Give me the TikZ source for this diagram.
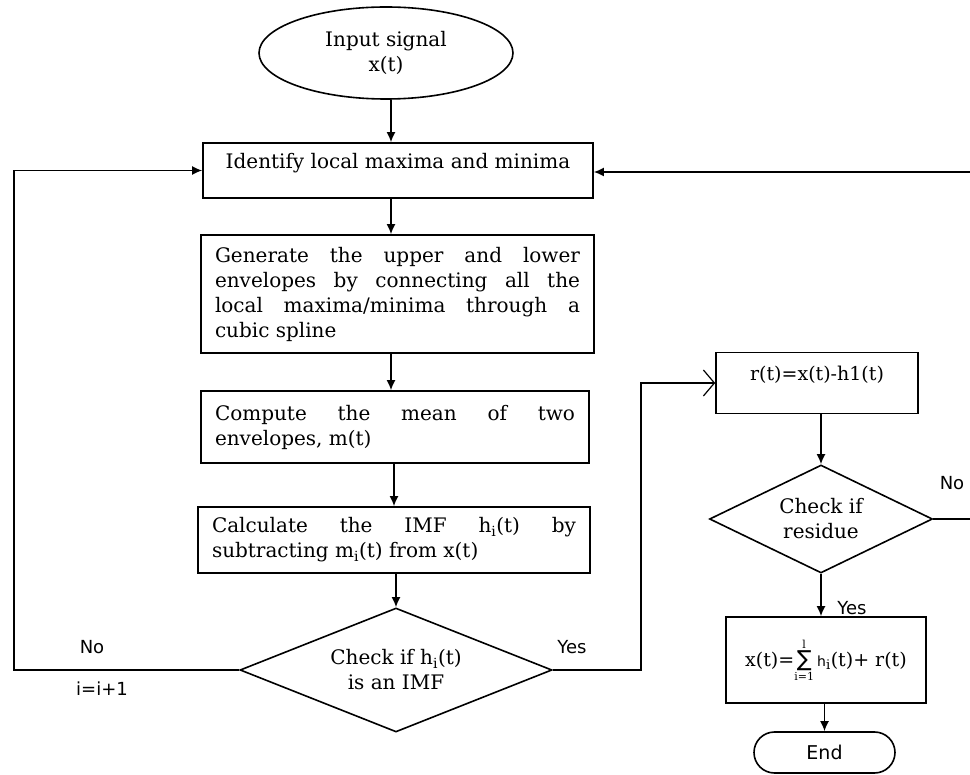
\documentclass[tikz,border=0pt]{standalone}
\usepackage{fontspec}
\setmainfont{DejaVu Serif}
\setsansfont{DejaVu Sans}
\usetikzlibrary{arrows.meta,shapes.geometric,shapes.misc}
\newcommand\bigserif{\fontsize{20}{25}\selectfont}
\newcommand\lblfont{\sffamily\fontsize{18}{21}\selectfont}
\newcommand\limfont{\fontsize{11}{11}\selectfont}
\tikzset{
  ln/.style={line width=1.6pt},
  arr/.style={ln, -{Latex[length=10pt,width=9pt]}},
  openarr/.style={ln, -{Straight Barb[length=11pt,width=26pt,line width=1.2pt]}},
  stepbox/.style={draw, ln, rectangle, inner xsep=14pt, inner ysep=0pt, font=\bigserif},
  jbox/.style={stepbox, align=justify},
  decision/.style={draw, ln, diamond, aspect=2.5, inner sep=0pt, align=center, font=\bigserif},
  terminal/.style={draw, ln, ellipse, inner sep=0pt, align=center, font=\bigserif},
  lbl/.style={inner sep=0pt, font=\lblfont}
}
\begin{document}
\begin{tikzpicture}[x=1pt,y=-1pt]
\useasboundingbox (0,0) rectangle (970,775);
\coordinate (spine) at (391,0);
\coordinate (lc) at (14,0);
\coordinate (rc) at (641,0);

\node[terminal, minimum width=254pt, minimum height=92pt] (ell) at (386,53) {Input signal\\x(t)};

\node[stepbox, minimum width=390pt, minimum height=55pt, text depth=19pt] (ident) at (398,170.5)
  {Identify local maxima and minima};

\node[jbox, text width=365pt, minimum height=118pt] (gen) at (397.5,294)
  {Generate the upper and lower\linebreak envelopes by connecting all the\linebreak local maxima/minima through a\linebreak cubic spline};

\node[jbox, text width=360pt, minimum height=72pt] (comp) at (395,427)
  {Compute the mean of two\linebreak envelopes, m(t)};

\node[jbox, text width=364pt, minimum height=66pt] (calc) at (394,540)
  {Calculate the IMF h\textsubscript{i}(t) by\linebreak subtracting m\textsubscript{i}(t) from x(t)};

\node[decision, minimum width=312pt, minimum height=124pt] (d1) at (396,670)
  {Check if h\textsubscript{i}(t)\\is an IMF};

\node[stepbox, minimum width=202pt, minimum height=61pt, font=\fontsize{19}{23}\selectfont, text depth=19pt] (rbox) at (817,383)
  {r(t)=x(t)-h1(t)};

\node[decision, aspect=2, minimum width=223pt, minimum height=108pt] (d2) at (821,519)
  {Check if\\residue};

\node[stepbox, minimum width=200pt, minimum height=86pt, inner xsep=0pt, font=\fontsize{19}{22}\selectfont] (sum) at (826,660)
  {x(t)=$\mathop{\hbox{\sffamily\fontsize{22}{22}\selectfont ∑}}\limits_{\hbox{\limfont i=1}}^{\hbox{\limfont l}}$\,{\sffamily\fontsize{14}{15}\selectfont h}\textsubscript{i}(t)+ r(t)};

\node[draw, ln, rounded rectangle, minimum width=141pt, minimum height=41pt, inner sep=0pt, font=\sffamily\fontsize{19}{22}\selectfont] (endn) at (824.5,752.5) {End};

% labels
\node[lbl] (lno) at (92,647) {No};
\node[lbl] (linc) at (102,689) {i=i+1};
\node[lbl] (lyes) at (572,647) {Yes};
\node[lbl] (rno) at (952,483) {No};
\node[lbl] (ryes) at (852,608) {Yes};

% open ends at the right border
\coordinate (rtop) at (970,172);
\coordinate (rbot) at (970,519);

% connectors
\draw[arr] (ell.south -| spine) -- (ident.north -| spine);
\draw[arr] (ident.south -| spine) -- (gen.north -| spine);
\draw[arr] (gen.south -| spine) -- (comp.north -| spine);
\draw[arr] (comp.south -| calc) -- (calc.north);
\draw[arr] (calc.south -| d1.north) -- (d1.north);
\draw[arr] (d1.west) -- (d1.west -| lc) |- (ident.west);
\draw[openarr] (d1.east) -- (d1.east -| rc) |- (rbox.west);
\draw[arr] (rbox.south -| d2.north) -- (d2.north);
\draw[ln] (d2.east) -- (rbot);
\draw[arr] (rtop) -- (rtop -| ident.east);
\draw[arr] (d2.south) -- (d2.south |- sum.north);
\draw[arr] (sum.south -| endn.north) -- (endn.north);
\end{tikzpicture}
\end{document}
